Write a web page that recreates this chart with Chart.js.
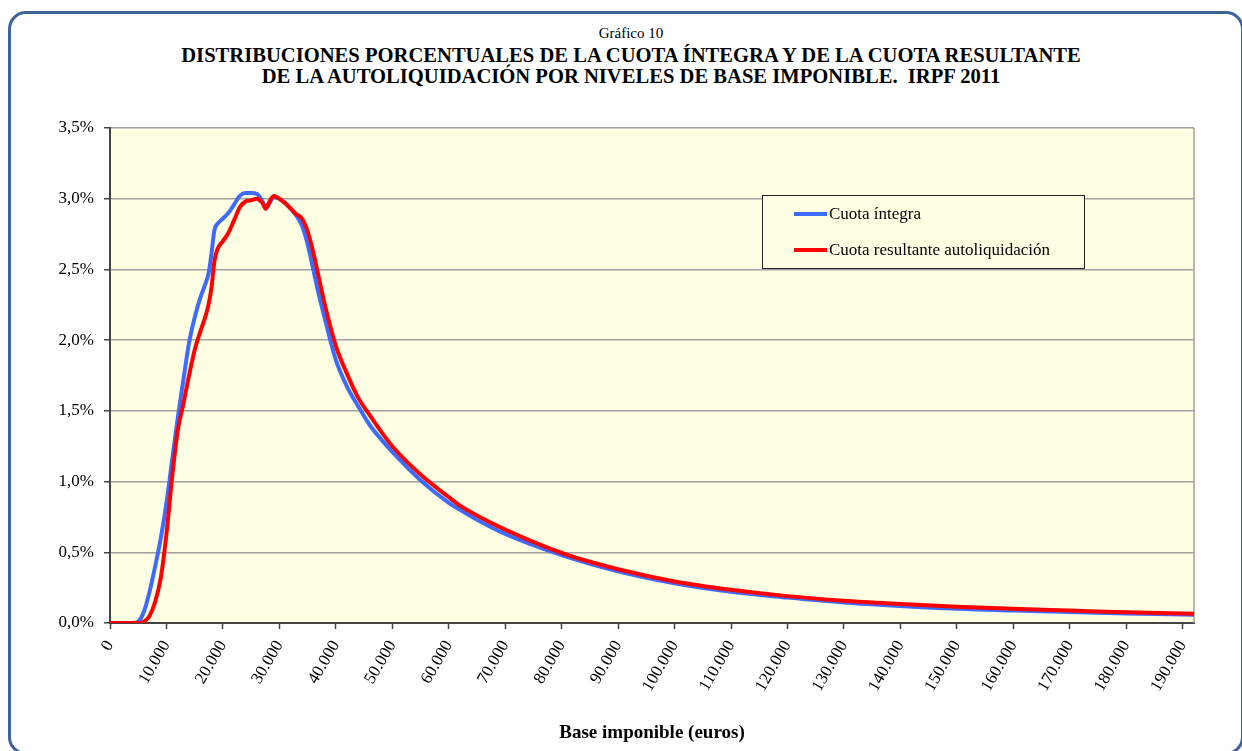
<!DOCTYPE html>
<html>
<head>
<meta charset="utf-8">
<script src="https://cdn.jsdelivr.net/npm/chart.js@4"></script>
<style>
    html, body { margin: 0; padding: 0; background: #fff; overflow: hidden; }
    #wrap { position: relative; width: 1242px; height: 751px; }
    #frame {
        position: absolute; left: 8px; top: 11px; width: 1236px; height: 744px;
        border: 3px solid #3e6398; border-radius: 18px; box-sizing: border-box;
    }
    #titles {
        position: absolute; left: 0; top: 24px; width: 1262px; text-align: center;
        font-family: "Liberation Serif", serif; color: #000;
    }
    #titles span { display: block; font-size: 15px; line-height: 19px; margin-bottom: 2px; }
    #titles b { display: block; font-size: 20.6px; line-height: 21px; }
    #box { position: absolute; left: 0; top: 0; width: 1242px; height: 751px; }
</style>
</head>
<body>
<div id="wrap">
    <div id="frame"></div>
    <div id="titles">
        <span>Gráfico 10</span>
        <b>DISTRIBUCIONES PORCENTUALES DE LA CUOTA ÍNTEGRA Y DE LA CUOTA RESULTANTE</b>
        <b>DE LA AUTOLIQUIDACIÓN POR NIVELES DE BASE IMPONIBLE.&nbsp; IRPF 2011</b>
    </div>
    <div id="box"><canvas id="chart"></canvas></div>
</div>
<script>
    'use strict';

    // Base imponible (euros)
    const baseImponible = [0, 2000, 4000, 5000, 6000, 7000, 8000, 9000, 10000, 11000, 12000,
        13000, 14000, 15000, 16000, 17000, 17500, 18000, 18500, 19000, 20000, 21000, 22000,
        23000, 24000, 25000, 26000, 27000, 27600, 28000, 29000, 30000, 31000, 32000, 33000,
        34000, 35000, 36000, 37000, 38000, 40000, 42000, 44000, 46000, 48000, 50000, 55000,
        60000, 62000, 65000, 70000, 80000, 90000, 100000, 110000, 120000, 130000, 140000,
        150000, 160000, 170000, 180000, 192000];

    // % of total
    const cuotaIntegra = [0, 0, 0, 0.01, 0.08, 0.22, 0.40, 0.60, 0.85, 1.15, 1.45,
        1.72, 1.98, 2.16, 2.30, 2.41, 2.48, 2.62, 2.78, 2.82, 2.86, 2.90, 2.96,
        3.02, 3.04, 3.04, 3.035, 2.98, 2.93, 2.95, 3.01, 3.00, 2.97, 2.93, 2.88,
        2.81, 2.68, 2.50, 2.32, 2.16, 1.86, 1.67, 1.53, 1.40, 1.30, 1.21, 1.01,
        0.85, 0.80, 0.73, 0.63, 0.48, 0.365, 0.28, 0.22, 0.18, 0.145, 0.12,
        0.10, 0.088, 0.078, 0.068, 0.058];

    const cuotaResultante = [0, 0, 0, 0, 0.01, 0.05, 0.15, 0.32, 0.63, 1.03, 1.36,
        1.55, 1.75, 1.93, 2.06, 2.18, 2.26, 2.38, 2.56, 2.64, 2.70, 2.76, 2.85,
        2.94, 2.98, 2.99, 3.00, 2.97, 2.93, 2.96, 3.02, 3.00, 2.97, 2.93, 2.89,
        2.86, 2.77, 2.62, 2.44, 2.26, 1.96, 1.76, 1.59, 1.47, 1.355, 1.25, 1.05,
        0.89, 0.83, 0.76, 0.66, 0.495, 0.38, 0.294, 0.235, 0.19, 0.158, 0.135,
        0.115, 0.10, 0.088, 0.076, 0.066];

    const seriesLabels = ['Cuota íntegra', 'Cuota resultante autoliquidación'];
    const seriesColors = ['#3d6bff', '#ff0000'];

    // Axis ticks
    const xTicks = [0, 10000, 20000, 30000, 40000, 50000, 60000, 70000, 80000, 90000, 100000,
        110000, 120000, 130000, 140000, 150000, 160000, 170000, 180000, 190000];
    const yTicks = [0, 0.5, 1.0, 1.5, 2.0, 2.5, 3.0, 3.5];

    const FONT = '"Liberation Serif", "Times New Roman", serif';

    function points(ys) {
        return baseImponible.map((x, i) => ({ x: x, y: ys[i] }));
    }

    // Format with Spanish thousands separator
    function formatMiles(v) {
        return String(v).replace(/\B(?=(\d{3})+(?!\d))/g, '.');
    }

    // Yellow plot background + right frame line
    const plotArea = {
        id: 'plotArea',
        beforeDraw(chart) {
            const { ctx, chartArea: a } = chart;
            ctx.save();
            ctx.fillStyle = '#ffffe3';
            ctx.fillRect(a.left, a.top, a.right - a.left, a.bottom - a.top);
            ctx.restore();
        },
        beforeDatasetsDraw(chart) {
            const { ctx, chartArea: a } = chart;
            ctx.save();
            ctx.strokeStyle = '#a0a0a0';
            ctx.lineWidth = 1.5;
            ctx.beginPath();
            ctx.moveTo(a.right, a.top);
            ctx.lineTo(a.right, a.bottom);
            ctx.stroke();
            ctx.restore();
        }
    };

    // Legend box inside the plot
    const boxLegend = {
        id: 'boxLegend',
        afterDraw(chart) {
            const { ctx } = chart;
            const x = 762, y = 195, w = 322, h = 73;
            ctx.save();
            ctx.fillStyle = '#ffffe3';
            ctx.fillRect(x, y, w, h);
            ctx.strokeStyle = '#222';
            ctx.lineWidth = 1;
            ctx.strokeRect(x + 0.5, y + 0.5, w, h);
            ctx.font = '17px ' + FONT;
            ctx.textBaseline = 'middle';
            chart.data.datasets.forEach((ds, i) => {
                const ly = y + 19 + i * 36;
                ctx.strokeStyle = ds.borderColor;
                ctx.lineWidth = 4;
                ctx.beginPath();
                ctx.moveTo(794, ly);
                ctx.lineTo(827, ly);
                ctx.stroke();
                ctx.fillStyle = '#000';
                ctx.fillText(ds.label, 829, ly + 1);
            });
            ctx.restore();
        }
    };

    function createChart() {
        const ctx = document.getElementById('chart');

        new Chart(ctx, {
            type: 'line',
            data: {
                datasets: [{
                    label: seriesLabels[0],
                    data: points(cuotaIntegra),
                    borderColor: seriesColors[0],
                    order: 1
                }, {
                    label: seriesLabels[1],
                    data: points(cuotaResultante),
                    borderColor: seriesColors[1],
                    order: 0
                }]
            },
            options: {
                responsive: true,
                maintainAspectRatio: false,
                animation: false,
                layout: { padding: { top: 128, right: 48, left: 0, bottom: 0 } },
                elements: {
                    line: { borderWidth: 4, cubicInterpolationMode: 'monotone', borderCapStyle: 'round' },
                    point: { radius: 0 }
                },
                plugins: {
                    legend: { display: false },
                    tooltip: { enabled: false }
                },
                scales: {
                    x: {
                        type: 'linear',
                        min: 0,
                        max: 192000,
                        afterBuildTicks: function(scale) {
                            scale.ticks = xTicks.map(v => ({ value: v }));
                        },
                        afterFit: function(scale) { scale.height = 128; },
                        border: { color: '#444', width: 2 },
                        grid: { drawOnChartArea: false, tickLength: 6, tickColor: '#444', tickWidth: 1.5 },
                        ticks: {
                            autoSkip: false,
                            minRotation: 60,
                            maxRotation: 60,
                            padding: 8,
                            color: '#000',
                            font: { family: FONT, size: 17 },
                            callback: function(value) { return formatMiles(value); }
                        },
                        title: {
                            display: true,
                            text: 'Base imponible (euros)',
                            color: '#000',
                            font: { family: FONT, size: 19, weight: 'bold' },
                            padding: { top: 0, bottom: 7 }
                        }
                    },
                    y: {
                        min: 0,
                        max: 3.5,
                        afterBuildTicks: function(scale) {
                            scale.ticks = yTicks.map(v => ({ value: v }));
                        },
                        afterFit: function(scale) { scale.width = 110; },
                        border: { color: '#444', width: 2 },
                        grid: { color: '#a0a0a0', lineWidth: 1.5, tickLength: 6, tickColor: '#444' },
                        ticks: {
                            padding: 10,
                            color: '#000',
                            font: { family: FONT, size: 17 },
                            callback: function(value) {
                                return value.toFixed(1).replace('.', ',') + '%';
                            }
                        }
                    }
                }
            },
            plugins: [plotArea, boxLegend]
        });
    }

    createChart();
</script>
</body>
</html>
